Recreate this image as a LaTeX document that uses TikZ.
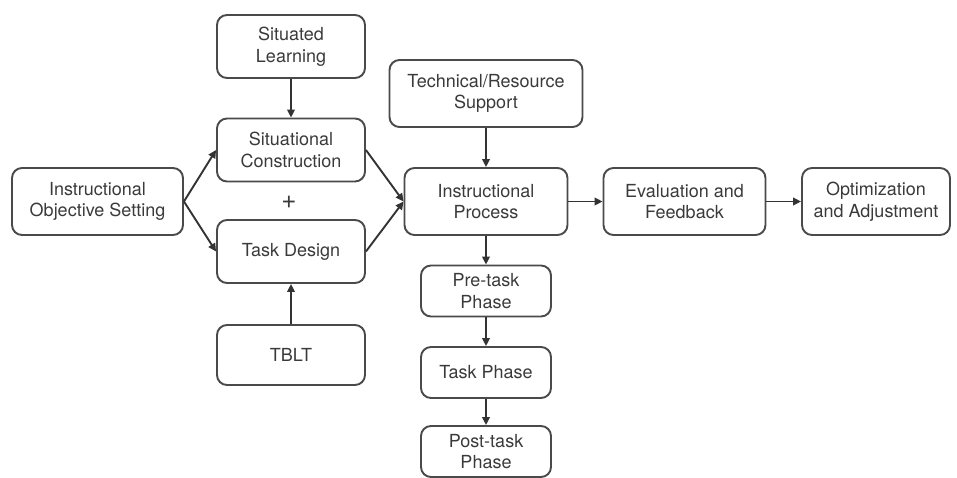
\documentclass[tikz,border=0pt]{standalone}
\usepackage{fontspec}
\setmainfont{TeX Gyre Heros}
\usetikzlibrary{arrows.meta,positioning}
\definecolor{boxline}{HTML}{4A4A4A}
\definecolor{boxtext}{HTML}{3A3A3A}
\begin{document}
\begin{tikzpicture}[x=0.5pt,y=-0.5pt,font=\fontsize{9}{10.8}\selectfont,
  box/.style={draw=boxline,line width=0.95pt,rounded corners=5pt,align=center,text=boxtext,inner sep=1pt},
  widebox/.style={box,minimum width=74pt,minimum height=31.5pt},
  phasebox/.style={box,minimum width=65pt,minimum height=25.5pt},
  link/.style={-{Triangle[length=4pt,width=3.8pt]},line width=0.95pt,draw=black!80}]
  \useasboundingbox (0,0) rectangle (957,477);
  % left column
  \node[box,minimum width=85.5pt,minimum height=33.5pt] (objective) at (97.5,201.5) {Instructional\\Objective Setting};
  \node[widebox] (situated) at (291,46.5) {Situated\\Learning};
  \node[widebox] (construction) at (291,150) {Situational\\Construction};
  \node[text=boxtext,font=\fontsize{13}{13}\selectfont] (plus) at (289,202) {+};
  \node[widebox] (design) at (291,251.5) {Task Design};
  \node[widebox,minimum height=30pt] (tblt) at (291,355) {TBLT};
  % main row
  \node[box,minimum width=96.5pt,minimum height=33.5pt] (support) at (486,93.5) {Technical/Resource\\Support};
  \node[box,minimum width=81.5pt,minimum height=33.5pt] (process) at (486,201.5) {Instructional\\Process};
  \node[box,minimum width=81pt,minimum height=33.5pt] (evaluation) at (684.5,201.5) {Evaluation and\\Feedback};
  \node[box,minimum width=74pt,minimum height=33.5pt] (optimization) at (876,201.5) {Optimization\\and Adjustment};
  % phases
  \node[phasebox] (pretask) at (486,291) {Pre-task\\Phase};
  \node[phasebox] (taskphase) at (486,372.5) {Task Phase};
  \node[phasebox] (posttask) at (486,451.5) {Post-task\\Phase};
  % connectors
  \draw[link] (situated) -- (construction);
  \draw[link] (tblt) -- (design);
  \draw[link] (objective.east) -- (construction.west);
  \draw[link] (objective.east) -- (design.west);
  \draw[link] (construction.east) -- (process.west);
  \draw[link] (design.east) -- (process.west);
  \draw[link] (support) -- (process);
  \draw[link] (process) -- (evaluation);
  \draw[link] (evaluation) -- (optimization);
  \draw[link] (process) -- (pretask);
  \draw[link] (pretask) -- (taskphase);
  \draw[link] (taskphase) -- (posttask);
\end{tikzpicture}
\end{document}
